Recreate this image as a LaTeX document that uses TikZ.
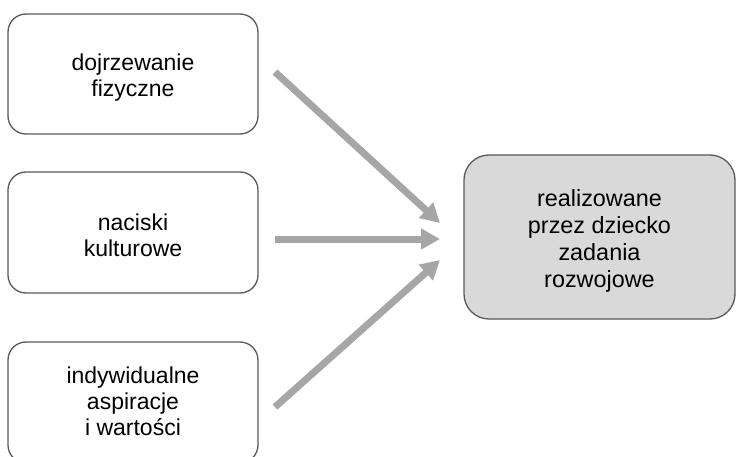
\documentclass[tikz,border=0pt]{standalone}
\usepackage{fontspec}
\setmainfont{Liberation Sans}
\usetikzlibrary{arrows.meta}
\definecolor{boxline}{HTML}{595959}
\definecolor{arrowgray}{HTML}{A6A6A6}
\definecolor{goalfill}{HTML}{D9D9D9}
\tikzset{
  leftbox/.style={draw=boxline, line width=1.3pt, rounded corners=18pt, fill=white},
  goalbox/.style={draw=boxline, line width=1.3pt, rounded corners=25pt, fill=goalfill},
  lbl/.style={align=center, font=\fontsize{23}{26}\selectfont, inner sep=0pt},
  glbl/.style={align=center, font=\fontsize{23.4}{27}\selectfont, inner sep=0pt},
  bigarrow/.style={draw=arrowgray, line width=7pt, -{Triangle[length=19pt,width=20pt]}}
}
\begin{document}
\begin{tikzpicture}[x=1pt,y=-1pt]
\useasboundingbox (0,0) rectangle (736,457);
% boxes
\draw[leftbox] (8,14) rectangle (258,134);
\node[lbl] (b1) at (133,78) {dojrzewanie\\fizyczne};
\draw[leftbox] (8,172) rectangle (258,293);
\node[lbl] (b2) at (133,235) {naciski\\kulturowe};
\draw[leftbox] (8,342) rectangle (258,463);
\node[lbl] (b3) at (133,401) {indywidualne\\aspiracje\\i wartości};
\draw[goalbox] (464,155) rectangle (735,319);
\node[glbl] (g) at (599.5,241) {realizowane\\przez dziecko\\zadania\\rozwojowe};
% arrows
\coordinate (s1) at (275,72);
\coordinate (e1) at (440,223);
\coordinate (s2) at (275,239);
\coordinate (e2) at (440,239);
\coordinate (s3) at (275,407);
\coordinate (e3) at (440,260);
\draw[bigarrow] (s1) -- (e1);
\draw[bigarrow] (s2) -- (e2);
\draw[bigarrow] (s3) -- (e3);
\end{tikzpicture}
\end{document}
